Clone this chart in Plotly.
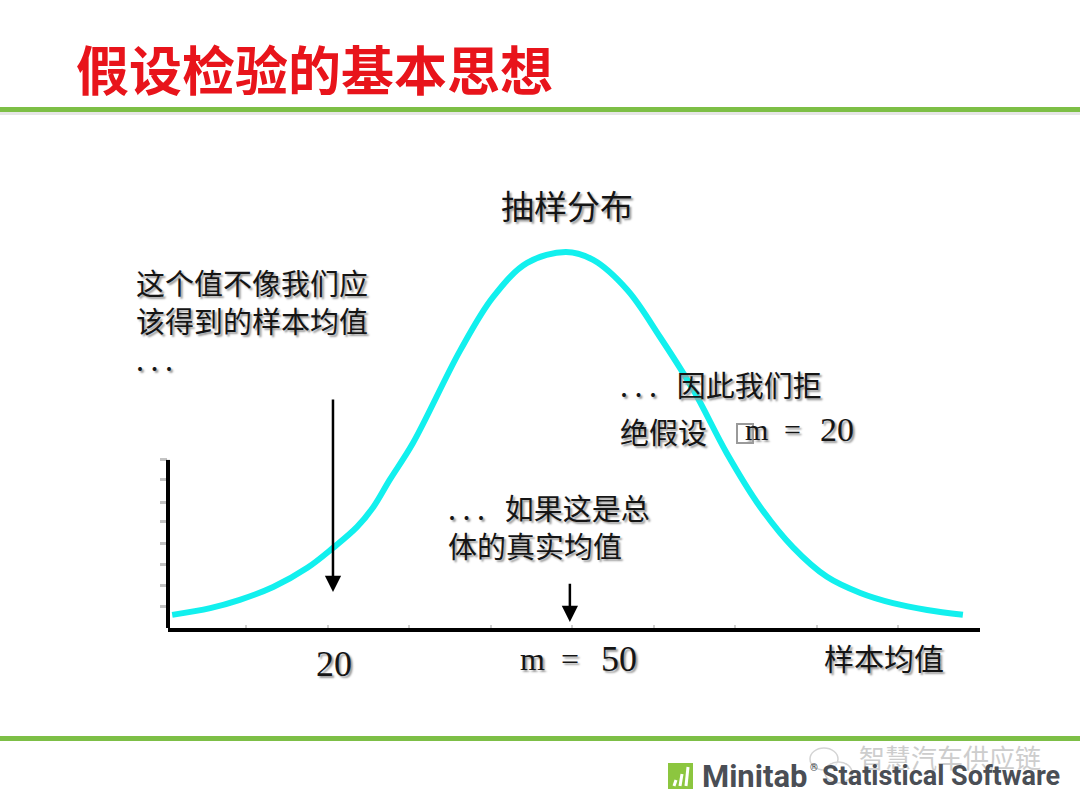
import plotly.graph_objects as go

# ---------------- data ----------------
sample_mean = [-0.7, 4.2, 8.0, 12.3, 16.7, 20.0, 23.1, 25.2, 27.3, 30.3, 36.4, 40.6, 45.0, 50.0,
               53.5, 57.9, 62.1, 66.4, 70.7, 75.0, 79.2, 83.6, 87.9, 92.1, 96.5, 101.1]
density = [3.5, 5.3, 7.5, 10.9, 16.0, 21.3, 26.9, 32.2, 39.4, 49.2, 73.9, 88.0, 97.1, 100.0,
           97.9, 89.9, 77.4, 63.3, 46.5, 32.2, 21.5, 13.6, 9.3, 6.6, 4.8, 3.5]

hyp_mean = 20          # hypothesised mean (left arrow)
true_mean = 50         # population mean (middle arrow)
y_axis_top = 44.7      # height of the drawn vertical axis
y_ticks = [5.6, 11.4, 16.8, 22.6, 28.2, 33.5, 39.4, 44.7]

title_text = "假设检验的基本思想"
dist_label = "抽样分布"
left_lines = ["这个值不像我们应", "该得到的样本均值", ". . ."]
right_lines = [". . .   因此我们拒", "绝假设"]
mid_lines = [". . .   如果这是总", "体的真实均值"]
x_title = "样本均值"
brand = ["Minitab", "®", "Statistical Software"]
watermark = "智慧汽车供应链"

# ---------------- geometry helpers (pixel -> paper) ----------------
W, H = 1080, 810
L, R, T, B = 168, 100, 140, 182
PW, PH = W - L - R, H - T - B


def px(x):
    return (x - L) / PW


def py(y):
    return (H - B - y) / PH


CJK = "Noto Sans CJK SC, Noto Sans CJK JP, sans-serif"
SERIF = "Liberation Serif, DejaVu Serif, serif"
BRAND = "Roboto, Arial, sans-serif"
SHADOW = "2px 2px 2px #9a9a9a"

fig = go.Figure()
fig.add_trace(go.Scatter(
    x=sample_mean, y=density, mode="lines",
    line=dict(color="#12F0EE", width=6, shape="spline", smoothing=1.0),
    hoverinfo="skip", showlegend=False))

fig.update_xaxes(range=[-1.24, 103.3], showgrid=False, zeroline=False,
                 showline=True, linecolor="black", linewidth=4,
                 ticks="inside", tick0=8.8, dtick=10.5, ticklen=3,
                 tickcolor="#d0d0d0", tickwidth=2, showticklabels=False)
fig.update_yaxes(range=[0, (H - B - T) / 3.76], showgrid=False, zeroline=False,
                 showline=False, ticks="outside", tickvals=y_ticks, ticklen=7,
                 tickwidth=3, tickcolor="#c4c4c4", showticklabels=False)

shapes = []
# vertical axis line
shapes.append(dict(type="line", xref="paper", yref="y", x0=0, x1=0, y0=0, y1=y_axis_top,
                   line=dict(color="black", width=4)))
# green separator lines
for y0, y1 in [(107, 112), (736, 741)]:
    shapes.append(dict(type="rect", xref="paper", yref="paper", x0=px(0), x1=px(W),
                       y0=py(y1), y1=py(y0), line=dict(width=0), fillcolor="#7DBF46",
                       layer="below"))
shapes.append(dict(type="rect", xref="paper", yref="paper", x0=px(0), x1=px(W),
                   y0=py(115), y1=py(112), line=dict(width=0), fillcolor="#e6e6e6",
                   layer="below"))
# small box before the "m" in the right-hand note
shapes.append(dict(type="rect", xref="paper", yref="paper", x0=px(737), x1=px(753),
                   y0=py(443), y1=py(424), line=dict(color="#9a9a9a", width=2)))
# Minitab logo square
shapes.append(dict(type="rect", xref="paper", yref="paper", x0=px(668), x1=px(693),
                   y0=py(789), y1=py(763), line=dict(width=0), fillcolor="#8CC63F"))
for bx, top in [(674, 780), (680, 774), (686, 767)]:
    shapes.append(dict(type="line", xref="paper", yref="paper", x0=px(bx), x1=px(bx + 2),
                       y0=py(786), y1=py(top), line=dict(color="white", width=3)))
# watermark chat icon (two faint bubbles)
shapes.append(dict(type="circle", xref="paper", yref="paper", x0=px(810), x1=px(838),
                   y0=py(770), y1=py(748), line=dict(color="#d4d4d4", width=1.5)))
shapes.append(dict(type="circle", xref="paper", yref="paper", x0=px(825), x1=px(852),
                   y0=py(783), y1=py(762), line=dict(color="#d4d4d4", width=1.5),
                   fillcolor="rgba(255,255,255,0.6)"))
fig.update_layout(shapes=shapes)

ann = []


def text(x, y, s, size, family=CJK, color="#151515", anchor="left", shadow=SHADOW,
         weight="normal"):
    ann.append(dict(x=px(x), y=py(y), xref="paper", yref="paper", text=s,
                    showarrow=False, xanchor=anchor, yanchor="middle",
                    font=dict(family=family, size=size, color=color, shadow=shadow,
                              weight=weight)))


# title
text(74, 68, title_text, 53, family=CJK, color="#E8141B", shadow="none", weight="bold")
text(567, 205, dist_label, 33, anchor="center")
for i, s in enumerate(left_lines):
    text(134, 282 + 38 * i, s, 29)
text(618, 384, right_lines[0], 29)
text(618, 431, right_lines[1], 29)
text(743, 430, "m", 30, family=SERIF)
text(782, 430, "=", 30, family=SERIF)
text(818, 430, str(hyp_mean), 34, family=SERIF)
text(446, 507, mid_lines[0], 29)
text(446, 545, mid_lines[1], 29)
text(334, 664, str(hyp_mean), 36, family=SERIF, anchor="center")
text(518, 659, "m", 32, family=SERIF)
text(559, 659, "=", 32, family=SERIF)
text(599, 659, str(true_mean), 36, family=SERIF)
text(822, 657, x_title, 30)
# footer
text(857, 756, watermark, 26, color="#cdcdcd", shadow="none")
text(700, 776, brand[0], 31, family=BRAND, color="#4A4E55", shadow="none", weight="bold")
text(808, 767, brand[1], 10, family=BRAND, color="#4A4E55", shadow="none", weight="bold")
text(1062, 776, brand[2], 27, family=BRAND, color="#4A4E55", shadow="none", weight="bold",
     anchor="right")

# arrows
ann.append(dict(x=hyp_mean, y=9.6, ax=hyp_mean, ay=61.2, xref="x", yref="y",
                axref="x", ayref="y", showarrow=True, arrowhead=2, arrowsize=1.3,
                arrowwidth=2.5, arrowcolor="black", text=""))
ann.append(dict(x=true_mean + 0.5, y=1.6, ax=true_mean + 0.5, ay=12.2, xref="x", yref="y",
                axref="x", ayref="y", showarrow=True, arrowhead=2, arrowsize=1.3,
                arrowwidth=2.5, arrowcolor="black", text=""))

fig.update_layout(annotations=ann, width=W, height=H,
                  margin=dict(l=L, r=R, t=T, b=B, pad=0),
                  paper_bgcolor="white", plot_bgcolor="white")

fig.write_html("out.html", config={"displayModeBar": False},
               post_script="document.body.style.margin='0';")
